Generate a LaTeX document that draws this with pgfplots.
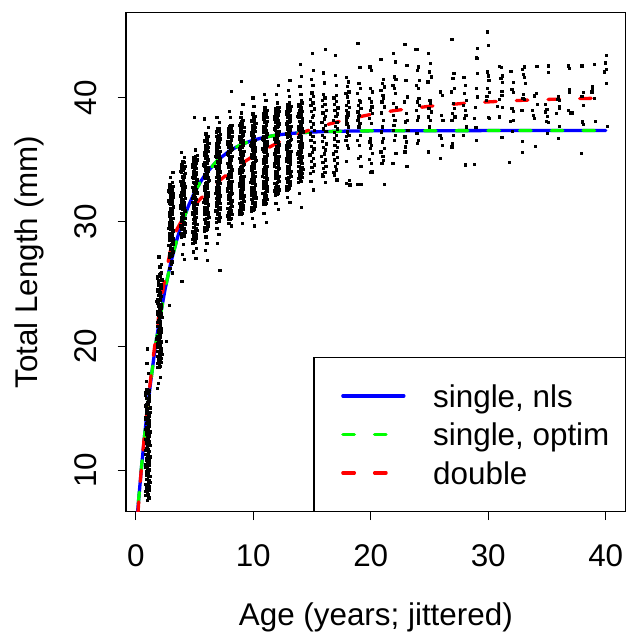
\documentclass[border=0pt]{standalone}
\usepackage{fontspec}
\setmainfont{Liberation Sans}
\usepackage{pgfplots}
\pgfplotsset{compat=1.18}
\definecolor{rblue}{RGB}{0,0,255}
\definecolor{rgreen}{RGB}{0,255,0}
\definecolor{rred}{RGB}{255,0,0}
\newcommand{\bigfont}{\fontsize{31.5}{38}\selectfont}
\begin{document}
\begin{tikzpicture}[font=\bigfont]
\useasboundingbox (-126bp,-125.3bp) rectangle (501bp,511.7bp);
\begin{axis}[
  at={(0bp,0bp)}, anchor=south west,
  scale only axis, width=499.7bp, height=499bp,
  xmin=-0.83, xmax=41.7, ymin=6.67, ymax=46.84,
  xtick={0,10,20,30,40}, ytick={10,20,30,40},
  tick pos=left, tick align=outside, major tick length=8.3bp,
  axis line style={line width=1.2bp},
  every tick/.append style={line width=1.2bp, black},
  /pgf/number format/assume math mode=true,
  tick label style={font=\bigfont},
  xticklabel style={anchor=base, yshift=-46bp},
  yticklabel style={xshift=-21bp, rotate=90, anchor=base},
  xlabel={Age (years; jittered)}, ylabel={Total Length (mm)},
  every axis x label/.style={at={(rel axis cs:0.5,0)}, anchor=base, yshift=-113.3bp, font=\bigfont},
  every axis y label/.style={at={(rel axis cs:0,0.5)}, xshift=-88bp, rotate=90, anchor=base, font=\bigfont},
  legend cell align=left,
  legend style={at={(rel axis cs:1,0)}, anchor=south east, draw=black, line width=1.2bp, fill=white,
     inner xsep=27.3bp, inner ysep=19bp, row sep=0bp, column sep=27.7bp, font=\bigfont,
     nodes={inner sep=0bp, text height=30.5bp, text depth=8bp}},
  legend image code/.code={\draw[#1] (0bp,0bp) -- (61bp,0bp);},
]
\addplot[only marks, mark=square*, mark size=1.15bp, mark options={draw=none, fill=black}, forget plot] coordinates {
(0.85,8.0) (1.08,8.1) (0.98,8.3) (1.17,8.4) (0.91,8.6) (1.12,8.7) (0.81,8.9) (1.03,9.0) (1.15,9.2) (0.94,9.3) (1.19,9.5) (0.88,9.6)
(1.05,9.8) (0.87,9.9) (1.16,10.1) (0.96,10.2) (1.10,10.4) (0.83,10.5) (1.01,10.7) (1.13,10.8) (0.92,11.0) (1.18,11.1) (0.89,11.3) (1.07,11.4)
(0.85,11.6) (1.08,11.7) (0.98,11.9) (1.17,12.0) (0.91,12.2) (1.12,12.3) (0.81,12.5) (1.03,12.6) (1.15,12.8) (0.94,12.9) (1.19,13.1) (0.88,13.2)
(1.05,13.4) (0.87,13.5) (1.16,13.7) (0.96,13.8) (1.10,14.0) (0.83,14.1) (1.01,14.3) (1.13,14.4) (0.92,14.6) (1.18,14.7) (0.89,14.9) (1.07,15.0)
(0.85,15.2) (1.08,15.3) (0.98,15.5) (1.17,15.6) (0.91,15.8) (1.12,15.9) (0.81,16.1) (1.03,16.2) (1.15,16.4) (0.94,16.5)
(0.95,7.6) (1.10,7.8) (0.90,17.2) (1.05,17.8) (0.92,18.6) (1.00,19.8)
(1.85,18.3) (2.08,18.4) (1.98,18.6) (2.17,18.7) (1.91,18.9) (2.12,19.0) (1.81,19.2) (2.03,19.3) (2.15,19.5) (1.94,19.6) (2.19,19.8) (1.88,19.9)
(2.05,20.1) (1.87,20.2) (2.16,20.4) (1.96,20.5) (2.10,20.7) (1.83,20.8) (2.01,21.0) (2.13,21.1) (1.92,21.3) (2.18,21.4) (1.89,21.6) (2.07,21.7)
(1.85,21.9) (2.08,22.0) (1.98,22.2) (2.17,22.3) (1.91,22.5) (2.12,22.6) (1.81,22.8) (2.03,22.9) (2.15,23.1) (1.94,23.2) (2.19,23.4) (1.88,23.5)
(2.05,23.7) (1.87,23.8) (2.16,24.0) (1.96,24.1) (2.10,24.3) (1.83,24.4) (2.01,24.6) (2.13,24.7) (1.92,24.9) (2.18,25.0) (1.89,25.2) (2.07,25.3)
(1.85,25.5) (2.08,25.6) (1.98,25.8) (2.17,25.9)
(1.90,17.0) (2.10,17.5) (1.85,16.6) (2.05,26.4) (1.95,27.2) (2.15,26.6) (2.86,23.3) (2.58,20.4)
(2.85,27.2) (3.08,27.3) (2.98,27.5) (3.17,27.6) (2.91,27.8) (3.12,27.9) (2.81,28.1) (3.03,28.2) (3.15,28.4) (2.94,28.5) (3.19,28.7) (2.88,28.8)
(3.05,29.0) (2.87,29.1) (3.16,29.3) (2.96,29.4) (3.10,29.6) (2.83,29.7) (3.01,29.9) (3.13,30.0) (2.92,30.2) (3.18,30.3) (2.89,30.5) (3.07,30.6)
(2.85,30.8) (3.08,30.9) (2.98,31.1) (3.17,31.2) (2.91,31.4) (3.12,31.5) (2.81,31.7) (3.03,31.8) (3.15,32.0) (2.94,32.1) (3.19,32.3) (2.88,32.4)
(3.05,32.6) (2.87,32.7) (3.16,32.9) (2.96,33.0) (3.10,33.2)
(3.10,25.9) (2.90,26.3) (3.05,26.8) (3.00,26.6) (2.95,33.6) (3.15,34.0)
(3.85,28.8) (4.08,28.9) (3.98,29.1) (4.17,29.2) (3.91,29.4) (4.12,29.5) (3.81,29.7) (4.03,29.8) (4.15,30.0) (3.94,30.1) (4.19,30.3) (3.88,30.4)
(4.05,30.6) (3.87,30.7) (4.16,30.9) (3.96,31.0) (4.10,31.2) (3.83,31.3) (4.01,31.5) (4.13,31.6) (3.92,31.8) (4.18,31.9) (3.89,32.1) (4.07,32.2)
(3.85,32.4) (4.08,32.5) (3.98,32.7) (4.17,32.8) (3.91,33.0) (4.12,33.1) (3.81,33.3) (4.03,33.4) (4.15,33.6) (3.94,33.7) (4.19,33.9) (3.88,34.0)
(4.05,34.2) (3.87,34.3) (4.16,34.5) (3.96,34.6) (4.10,34.8)
(3.90,25.2) (4.10,27.0) (3.95,27.4) (4.05,28.2) (4.15,35.2) (3.88,35.6)
(4.85,28.3) (5.08,28.4) (4.98,28.6) (5.17,28.7) (4.91,28.9) (5.12,29.0) (4.81,29.2) (5.03,29.3) (5.15,29.5) (4.94,29.6) (5.19,29.8) (4.88,29.9)
(5.05,30.1) (4.87,30.2) (5.16,30.4) (4.96,30.5) (5.10,30.7) (4.83,30.8) (5.01,31.0) (5.13,31.1) (4.92,31.3) (5.18,31.4) (4.89,31.6) (5.07,31.7)
(4.85,31.9) (5.08,32.0) (4.98,32.2) (5.17,32.3) (4.91,32.5) (5.12,32.6) (4.81,32.8) (5.03,32.9) (5.15,33.1) (4.94,33.2) (5.19,33.4) (4.88,33.5)
(5.05,33.7) (4.87,33.8) (5.16,34.0) (4.96,34.1) (5.10,34.3) (4.83,34.4) (5.01,34.6) (5.13,34.7) (4.92,34.9) (5.18,35.0) (4.89,35.2) (5.07,35.3)
(5.10,27.1) (4.90,27.6) (5.15,27.9) (5.05,35.8) (4.95,38.4)
(5.85,29.3) (6.08,29.4) (5.98,29.6) (6.17,29.7) (5.91,29.9) (6.12,30.0) (5.81,30.2) (6.03,30.3) (6.15,30.5) (5.94,30.6) (6.19,30.8) (5.88,30.9)
(6.05,31.1) (5.87,31.2) (6.16,31.4) (5.96,31.5) (6.10,31.7) (5.83,31.8) (6.01,32.0) (6.13,32.1) (5.92,32.3) (6.18,32.4) (5.89,32.6) (6.07,32.7)
(5.85,32.9) (6.08,33.0) (5.98,33.2) (6.17,33.3) (5.91,33.5) (6.12,33.6) (5.81,33.8) (6.03,33.9) (6.15,34.1) (5.94,34.2) (6.19,34.4) (5.88,34.5)
(6.05,34.7) (5.87,34.8) (6.16,35.0) (5.96,35.1) (6.10,35.3) (5.83,35.4) (6.01,35.6) (6.13,35.7) (5.92,35.9) (6.18,36.0) (5.89,36.2) (6.07,36.3)
(5.85,36.5) (6.08,36.6) (5.98,36.8) (6.17,36.9) (5.91,37.1)
(6.10,26.9) (5.90,27.7) (6.05,28.3) (5.95,28.8) (6.15,37.6) (5.85,38.3)
(6.85,30.0) (7.08,30.1) (6.98,30.3) (7.17,30.4) (6.91,30.6) (7.12,30.7) (6.81,30.9) (7.03,31.0) (7.15,31.2) (6.94,31.3) (7.19,31.5) (6.88,31.6)
(7.05,31.8) (6.87,31.9) (7.16,32.1) (6.96,32.2) (7.10,32.4) (6.83,32.5) (7.01,32.7) (7.13,32.8) (6.92,33.0) (7.18,33.1) (6.89,33.3) (7.07,33.4)
(6.85,33.6) (7.08,33.7) (6.98,33.9) (7.17,34.0) (6.91,34.2) (7.12,34.3) (6.81,34.5) (7.03,34.6) (7.15,34.8) (6.94,34.9) (7.19,35.1) (6.88,35.2)
(7.05,35.4) (6.87,35.5) (7.16,35.7) (6.96,35.8) (7.10,36.0) (6.83,36.1) (7.01,36.3) (7.13,36.4) (6.92,36.6) (7.18,36.7) (6.89,36.9) (7.07,37.0)
(6.85,37.2) (7.08,37.3) (6.98,37.5)
(7.15,26.1) (6.95,28.3) (7.05,29.0) (6.90,29.5) (7.10,38.0) (6.88,38.4)
(7.85,30.2) (8.08,30.3) (7.98,30.5) (8.17,30.6) (7.91,30.8) (8.12,30.9) (7.81,31.1) (8.03,31.2) (8.15,31.4) (7.94,31.5) (8.19,31.7) (7.88,31.8)
(8.05,32.0) (7.87,32.1) (8.16,32.3) (7.96,32.4) (8.10,32.6) (7.83,32.7) (8.01,32.9) (8.13,33.0) (7.92,33.2) (8.18,33.3) (7.89,33.5) (8.07,33.6)
(7.85,33.8) (8.08,33.9) (7.98,34.1) (8.17,34.2) (7.91,34.4) (8.12,34.5) (7.81,34.7) (8.03,34.8) (8.15,35.0) (7.94,35.1) (8.19,35.3) (7.88,35.4)
(8.05,35.6) (7.87,35.7) (8.16,35.9) (7.96,36.0) (8.10,36.2) (7.83,36.3) (8.01,36.5) (8.13,36.6) (7.92,36.8) (8.18,36.9) (7.89,37.1) (8.07,37.2)
(7.85,37.4) (8.08,37.5) (7.98,37.7) (8.17,37.8)
(8.10,29.7) (7.90,29.9) (8.05,38.4) (7.95,38.9) (8.10,40.5)
(8.85,30.6) (9.08,30.7) (8.98,30.9) (9.17,31.0) (8.91,31.2) (9.12,31.3) (8.81,31.5) (9.03,31.6) (9.15,31.8) (8.94,31.9) (9.19,32.1) (8.88,32.2)
(9.05,32.4) (8.87,32.5) (9.16,32.7) (8.96,32.8) (9.10,33.0) (8.83,33.1) (9.01,33.3) (9.13,33.4) (8.92,33.6) (9.18,33.7) (8.89,33.9) (9.07,34.0)
(8.85,34.2) (9.08,34.3) (8.98,34.5) (9.17,34.6) (8.91,34.8) (9.12,34.9) (8.81,35.1) (9.03,35.2) (9.15,35.4) (8.94,35.5) (9.19,35.7) (8.88,35.8)
(9.05,36.0) (8.87,36.1) (9.16,36.3) (8.96,36.4) (9.10,36.6) (8.83,36.7) (9.01,36.9) (9.13,37.0) (8.92,37.2) (9.18,37.3) (8.89,37.5) (9.07,37.6)
(8.85,37.8) (9.08,37.9) (8.98,38.1) (9.17,38.2) (8.91,38.4)
(9.05,29.9) (8.95,38.8) (9.10,39.5) (9.00,41.3)
(9.85,30.9) (10.08,31.0) (9.98,31.2) (10.17,31.3) (9.91,31.5) (10.12,31.6) (9.81,31.8) (10.03,31.9) (10.15,32.1) (9.94,32.2) (10.19,32.4) (9.88,32.5)
(10.05,32.7) (9.87,32.8) (10.16,33.0) (9.96,33.1) (10.10,33.3) (9.83,33.4) (10.01,33.6) (10.13,33.7) (9.92,33.9) (10.18,34.0) (9.89,34.2) (10.07,34.3)
(9.85,34.5) (10.08,34.6) (9.98,34.8) (10.17,34.9) (9.91,35.1) (10.12,35.2) (9.81,35.4) (10.03,35.5) (10.15,35.7) (9.94,35.8) (10.19,36.0) (9.88,36.1)
(10.05,36.3) (9.87,36.4) (10.16,36.6) (9.96,36.7) (10.10,36.9) (9.83,37.0) (10.01,37.2) (10.13,37.3) (9.92,37.5) (10.18,37.6) (9.89,37.8) (10.07,37.9)
(9.85,38.1) (10.08,38.2) (9.98,38.4) (10.17,38.5) (9.91,38.7)
(10.10,29.7) (9.90,30.3) (10.05,39.3) (9.95,40.0)
(10.85,31.4) (11.08,31.5) (10.98,31.7) (11.17,31.8) (10.91,32.0) (11.12,32.1) (10.81,32.3) (11.03,32.4) (11.15,32.6) (10.94,32.7) (11.19,32.9) (10.88,33.0)
(11.05,33.2) (10.87,33.3) (11.16,33.5) (10.96,33.6) (11.10,33.8) (10.83,33.9) (11.01,34.1) (11.13,34.2) (10.92,34.4) (11.18,34.5) (10.89,34.7) (11.07,34.8)
(10.85,35.0) (11.08,35.1) (10.98,35.3) (11.17,35.4) (10.91,35.6) (11.12,35.7) (10.81,35.9) (11.03,36.0) (11.15,36.2) (10.94,36.3) (11.19,36.5) (10.88,36.6)
(11.05,36.8) (10.87,36.9) (11.16,37.1) (10.96,37.2) (11.10,37.4) (10.83,37.5) (11.01,37.7) (11.13,37.8) (10.92,38.0) (11.18,38.1) (10.89,38.3) (11.07,38.4)
(10.85,38.6) (11.08,38.7) (10.98,38.9) (11.17,39.0) (10.91,39.2)
(11.10,30.0) (10.90,30.7) (11.05,39.8) (10.95,40.3)
(11.85,32.2) (12.08,32.3) (11.98,32.5) (12.17,32.6) (11.91,32.8) (12.12,32.9) (11.81,33.1) (12.03,33.2) (12.15,33.4) (11.94,33.5) (12.19,33.7) (11.88,33.8)
(12.05,34.0) (11.87,34.1) (12.16,34.3) (11.96,34.4) (12.10,34.6) (11.83,34.7) (12.01,34.9) (12.13,35.0) (11.92,35.2) (12.18,35.3) (11.89,35.5) (12.07,35.6)
(11.85,35.8) (12.08,35.9) (11.98,36.1) (12.17,36.2) (11.91,36.4) (12.12,36.5) (11.81,36.7) (12.03,36.8) (12.15,37.0) (11.94,37.1) (12.19,37.3) (11.88,37.4)
(12.05,37.6) (11.87,37.7) (12.16,37.9) (11.96,38.0) (12.10,38.2) (11.83,38.3) (12.01,38.5) (12.13,38.6) (11.92,38.8) (12.18,38.9) (11.89,39.1) (12.07,39.2)
(12.10,31.0) (11.90,31.5) (12.05,39.6) (11.95,40.3) (12.10,41.0)
(12.85,32.6) (13.08,32.7) (12.98,32.9) (13.17,33.0) (12.91,33.2) (13.12,33.3) (12.81,33.5) (13.03,33.6) (13.15,33.8) (12.94,33.9) (13.19,34.1) (12.88,34.2)
(13.05,34.4) (12.87,34.5) (13.16,34.7) (12.96,34.8) (13.10,35.0) (12.83,35.1) (13.01,35.3) (13.13,35.4) (12.92,35.6) (13.18,35.7) (12.89,35.9) (13.07,36.0)
(12.85,36.2) (13.08,36.3) (12.98,36.5) (13.17,36.6) (12.91,36.8) (13.12,36.9) (12.81,37.1) (13.03,37.2) (13.15,37.4) (12.94,37.5) (13.19,37.7) (12.88,37.8)
(13.05,38.0) (12.87,38.1) (13.16,38.3) (12.96,38.4) (13.10,38.6) (12.83,38.7) (13.01,38.9) (13.13,39.0) (12.92,39.2) (13.18,39.3) (12.89,39.5) (13.07,39.6)
(13.10,31.6) (12.90,32.0) (13.05,40.1) (12.95,40.6) (13.10,41.4)
(13.85,33.2) (14.08,33.3) (13.98,33.5) (14.17,33.6) (13.91,33.8) (14.12,33.9) (13.81,34.1) (14.03,34.2) (14.15,34.4) (13.94,34.5) (14.19,34.7) (13.88,34.8)
(14.05,35.0) (13.87,35.1) (14.16,35.3) (13.96,35.4) (14.10,35.6) (13.83,35.7) (14.01,35.9) (14.13,36.0) (13.92,36.2) (14.18,36.3) (13.89,36.5) (14.07,36.6)
(13.85,36.8) (14.08,36.9) (13.98,37.1) (14.17,37.2) (13.91,37.4) (14.12,37.5) (13.81,37.7) (14.03,37.8) (14.15,38.0) (13.94,38.1) (14.19,38.3) (13.88,38.4)
(14.05,38.6) (13.87,38.7) (14.16,38.9) (13.96,39.0) (14.10,39.2) (13.83,39.3) (14.01,39.5) (14.13,39.6)
(14.10,31.2) (13.90,32.3) (14.05,40.3) (13.95,40.9) (14.10,41.7) (13.98,42.7)
(14.85,33.9) (15.08,34.1) (14.98,34.4) (15.17,34.6) (14.91,34.9) (15.12,35.1) (14.81,35.4) (15.03,35.6) (15.15,35.9) (14.94,36.1) (15.19,36.4) (14.88,36.6)
(15.05,36.9) (14.87,37.1) (15.16,37.4) (14.96,37.6) (15.10,37.9) (14.83,38.1) (15.01,38.4) (15.13,38.6) (14.92,38.9) (15.18,39.1) (14.89,39.4) (15.07,39.6)
(14.85,39.9) (15.08,40.1) (14.98,40.4)
(15.10,32.6) (14.90,33.3) (15.05,41.0) (14.95,41.5) (15.00,43.6) (15.10,42.2)
(15.85,33.8) (16.08,34.0) (15.98,34.3) (16.17,34.5) (15.91,34.8) (16.12,35.0) (15.81,35.3) (16.03,35.5) (16.15,35.8) (15.94,36.0) (16.19,36.3) (15.88,36.5)
(16.05,36.8) (15.87,37.0) (16.16,37.3) (15.96,37.5) (16.10,37.8) (15.83,38.0) (16.01,38.3) (16.13,38.5) (15.92,38.8) (16.18,39.0) (15.89,39.3) (16.07,39.5)
(15.85,39.8) (16.08,40.0) (15.98,40.3)
(16.10,33.2) (15.90,33.7) (16.05,41.2) (15.95,42.0) (16.10,43.9)
(16.85,34.0) (17.08,34.2) (16.98,34.5) (17.17,34.7) (16.91,35.0) (17.12,35.2) (16.81,35.5) (17.03,35.7) (17.15,36.0) (16.94,36.2) (17.19,36.5) (16.88,36.7)
(17.05,37.0) (16.87,37.2) (17.16,37.5) (16.96,37.7) (17.10,38.0) (16.83,38.2) (17.01,38.5) (17.13,38.7) (16.92,39.0) (17.18,39.2) (16.89,39.5) (17.07,39.7)
(16.85,40.0) (17.08,40.2)
(17.10,33.4) (16.90,33.8) (17.05,41.0) (16.95,41.8) (17.00,43.4)
(17.90,41.64) (18.06,41.29) (17.97,40.94) (18.12,40.49) (17.86,40.35) (18.02,40.08) (18.09,39.68) (17.93,39.41) (18.15,39.22) (17.89,39.01) (18.04,38.80) (17.95,38.47)
(17.90,38.21) (18.06,37.67) (17.97,37.27) (18.12,37.00) (17.86,36.59) (18.02,36.19) (18.09,35.92) (17.93,34.90) (18.15,33.37) (17.89,33.11) (18.20,33.00) (17.95,37.90)
(17.90,36.90) (18.06,38.60)
(18.90,44.38) (19.06,42.44) (18.97,41.16) (19.12,40.75) (18.86,40.35) (19.02,39.81) (19.09,39.68) (18.93,39.41) (19.15,39.14) (18.89,38.88) (19.04,38.61) (18.95,38.47)
(18.90,38.21) (19.06,37.94) (18.97,37.67) (19.12,37.00) (18.86,36.59) (19.02,36.19) (19.09,35.26) (18.93,35.12) (19.15,34.50) (18.89,33.02) (19.20,33.05)
(19.90,42.50) (20.06,42.23) (19.97,40.75) (20.12,40.49) (19.86,39.95) (20.02,39.68) (20.09,39.28) (19.93,39.01) (20.15,38.74) (19.89,38.34) (20.04,37.94) (19.95,36.73)
(19.90,36.46) (20.06,36.19) (19.97,35.92) (20.12,35.52) (19.86,35.04) (20.02,34.72) (20.09,34.05) (20.00,34.00) (20.82,43.10)
(20.90,43.09) (21.06,41.48) (20.97,41.16) (21.12,40.89) (20.86,40.62) (21.02,40.22) (21.09,39.95) (20.93,39.68) (21.15,39.28) (20.89,38.80) (21.04,38.21) (20.95,37.67)
(20.90,37.27) (21.06,36.73) (20.97,36.46) (21.12,35.92) (20.86,35.66) (21.02,35.26) (21.09,34.98) (20.93,34.72) (21.15,33.02)
(21.90,43.57) (22.06,42.90) (21.97,41.69) (22.12,41.48) (21.86,41.02) (22.02,40.75) (22.09,40.35) (21.93,39.55) (22.15,39.22) (21.89,38.61) (22.04,38.21) (21.95,37.80)
(21.90,37.40) (22.06,37.00) (21.97,36.59) (22.12,35.52) (21.86,34.72)
(22.90,44.32) (23.06,42.63) (22.97,41.42) (23.12,40.08) (22.86,39.68) (23.02,38.74) (23.09,38.21) (22.93,38.07) (23.15,37.40) (22.89,36.86) (23.04,36.46) (22.95,36.06)
(22.90,35.66) (23.06,34.50) (23.80,43.90)
(23.90,43.89) (24.06,42.50) (23.97,42.23) (24.12,41.42) (23.86,41.02) (24.02,40.75) (24.09,39.95) (23.93,39.68) (24.15,39.41) (23.89,39.01) (24.04,38.47) (23.95,38.21)
(23.90,37.13) (24.06,36.59) (23.97,36.33)
(24.90,43.57) (25.06,42.77) (24.97,42.10) (25.12,41.69) (24.86,41.29) (25.02,39.81) (25.09,39.55) (24.93,39.14) (25.15,38.88) (24.89,38.47) (25.04,38.21) (24.95,37.67)
(24.90,35.66)
(25.90,40.49) (26.06,40.22) (25.97,38.61) (26.12,38.21) (25.86,37.00) (26.02,36.73) (26.09,36.19) (25.93,35.12)
(26.90,44.70) (27.06,41.96) (26.97,41.56) (27.12,40.75) (26.86,40.49) (27.02,39.55) (27.09,39.14) (26.93,38.74) (27.15,38.47) (26.89,38.21) (27.04,37.00) (26.95,36.33) (26.90,36.06)
(27.90,41.64) (28.06,41.02) (27.97,40.35) (28.12,39.81) (27.86,39.41) (28.02,39.01) (28.09,38.61) (27.93,38.34) (28.15,37.67) (27.89,37.00) (28.04,34.60)
(29.07,43.97) (28.96,43.25) (29.07,41.96) (28.96,40.76) (29.07,40.08) (28.88,39.22) (28.82,38.34) (28.93,37.61) (28.96,36.59) (28.82,34.66) (29.02,43.17)
(29.93,45.32) (30.01,44.22) (29.93,42.10) (30.01,41.77) (30.05,41.40) (29.93,40.76) (30.10,40.43) (29.81,39.79) (29.87,40.11) (30.01,38.42) (30.10,38.34)
(30.95,42.53) (31.08,42.45) (31.20,41.77) (31.20,41.24) (31.06,41.56) (31.15,40.54) (31.15,40.22) (30.95,39.87) (30.78,39.33) (31.20,39.22) (30.95,38.47) (31.15,36.81)
(31.91,42.12) (32.14,41.24) (32.00,40.67) (32.14,40.43) (32.00,39.14) (32.14,38.93) (31.85,38.12) (32.14,38.21) (31.80,34.80) (32.05,37.30)
(32.90,42.28) (33.07,42.50) (32.99,41.88) (33.07,41.64) (33.13,41.16) (32.99,40.27) (32.93,39.95) (33.07,39.87) (32.85,39.01) (32.90,36.49) (32.90,35.60)
(33.75,39.01) (33.84,38.61) (33.93,38.34) (34.01,36.11) (34.12,42.53) (34.07,40.38) (33.93,40.16) (34.18,39.47)
(34.86,39.47) (34.86,38.88) (34.97,39.06) (35.03,38.50) (34.92,38.12) (35.12,38.02) (35.03,37.13) (35.12,42.58) (35.12,42.04)
(35.97,40.08) (35.91,39.87) (36.05,39.81) (36.05,39.33) (36.05,39.20) (35.77,38.74) (36.05,37.70) (35.97,36.73)
(36.82,42.58) (36.90,42.37) (36.90,40.70) (36.90,40.49) (36.82,39.01) (37.02,38.85) (37.10,38.80) (36.96,38.74)
(37.95,42.58) (37.95,40.14) (38.10,40.43) (38.10,39.39) (38.01,38.07) (38.10,37.86) (37.93,35.52)
(39.03,42.69) (38.86,40.89) (38.80,40.49) (38.86,40.57) (39.03,39.95) (39.12,38.10)
(39.94,42.82) (39.88,42.10) (40.05,43.41) (40.05,41.16) (40.14,37.70) (40.02,42.30)
};
\addplot[only marks, mark=square*, mark size=1.15bp, mark options={draw=none, fill=black}, forget plot] coordinates {
(1.00,8.05) (0.83,8.30) (1.11,8.55) (0.93,8.80) (1.21,9.05) (0.87,9.30) (1.06,9.55) (0.97,9.80) (1.14,10.05) (0.79,10.30) (1.09,10.55) (0.90,10.80)
(1.00,11.05) (0.83,11.30) (1.11,11.55) (0.93,11.80) (1.21,12.05) (0.87,12.30) (1.06,12.55) (0.97,12.80) (1.14,13.05) (0.79,13.30) (1.09,13.55) (0.90,13.80)
(1.00,14.05) (0.83,14.30) (1.11,14.55) (0.93,14.80) (1.21,15.05) (0.87,15.30) (1.06,15.55) (0.97,15.80) (1.14,16.05) (0.79,16.30)
(2.00,18.35) (1.83,18.60) (2.11,18.85) (1.93,19.10) (2.21,19.35) (1.87,19.60) (2.06,19.85) (1.97,20.10) (2.14,20.35) (1.79,20.60) (2.09,20.85) (1.90,21.10)
(2.00,21.35) (1.83,21.60) (2.11,21.85) (1.93,22.10) (2.21,22.35) (1.87,22.60) (2.06,22.85) (1.97,23.10) (2.14,23.35) (1.79,23.60) (2.09,23.85) (1.90,24.10)
(2.00,24.35) (1.83,24.60) (2.11,24.85) (1.93,25.10) (2.21,25.35) (1.87,25.60) (2.06,25.85)
(3.00,27.25) (2.83,27.50) (3.11,27.75) (2.93,28.00) (3.21,28.25) (2.87,28.50) (3.06,28.75) (2.97,29.00) (3.14,29.25) (2.79,29.50) (3.09,29.75) (2.90,30.00)
(3.00,30.25) (2.83,30.50) (3.11,30.75) (2.93,31.00) (3.21,31.25) (2.87,31.50) (3.06,31.75) (2.97,32.00) (3.14,32.25) (2.79,32.50) (3.09,32.75) (2.90,33.00)
(4.00,28.85) (3.83,29.10) (4.11,29.35) (3.93,29.60) (4.21,29.85) (3.87,30.10) (4.06,30.35) (3.97,30.60) (4.14,30.85) (3.79,31.10) (4.09,31.35) (3.90,31.60)
(4.00,31.85) (3.83,32.10) (4.11,32.35) (3.93,32.60) (4.21,32.85) (3.87,33.10) (4.06,33.35) (3.97,33.60) (4.14,33.85) (3.79,34.10) (4.09,34.35) (3.90,34.60) (4.00,34.85)
(5.00,28.35) (4.83,28.60) (5.11,28.85) (4.93,29.10) (5.21,29.35) (4.87,29.60) (5.06,29.85) (4.97,30.10) (5.14,30.35) (4.79,30.60) (5.09,30.85) (4.90,31.10)
(5.00,31.35) (4.83,31.60) (5.11,31.85) (4.93,32.10) (5.21,32.35) (4.87,32.60) (5.06,32.85) (4.97,33.10) (5.14,33.35) (4.79,33.60) (5.09,33.85) (4.90,34.10)
(5.00,34.35) (4.83,34.60) (5.11,34.85) (4.93,35.10) (5.21,35.35)
(6.00,29.35) (5.83,29.60) (6.11,29.85) (5.93,30.10) (6.21,30.35) (5.87,30.60) (6.06,30.85) (5.97,31.10) (6.14,31.35) (5.79,31.60) (6.09,31.85) (5.90,32.10)
(6.00,32.35) (5.83,32.60) (6.11,32.85) (5.93,33.10) (6.21,33.35) (5.87,33.60) (6.06,33.85) (5.97,34.10) (6.14,34.35) (5.79,34.60) (6.09,34.85) (5.90,35.10)
(6.00,35.35) (5.83,35.60) (6.11,35.85) (5.93,36.10) (6.21,36.35) (5.87,36.60) (6.06,36.85) (5.97,37.10)
(7.00,30.05) (6.83,30.30) (7.11,30.55) (6.93,30.80) (7.21,31.05) (6.87,31.30) (7.06,31.55) (6.97,31.80) (7.14,32.05) (6.79,32.30) (7.09,32.55) (6.90,32.80)
(7.00,33.05) (6.83,33.30) (7.11,33.55) (6.93,33.80) (7.21,34.05) (6.87,34.30) (7.06,34.55) (6.97,34.80) (7.14,35.05) (6.79,35.30) (7.09,35.55) (6.90,35.80)
(7.00,36.05) (6.83,36.30) (7.11,36.55) (6.93,36.80) (7.21,37.05) (6.87,37.30) (7.06,37.55)
(8.00,30.25) (7.83,30.50) (8.11,30.75) (7.93,31.00) (8.21,31.25) (7.87,31.50) (8.06,31.75) (7.97,32.00) (8.14,32.25) (7.79,32.50) (8.09,32.75) (7.90,33.00)
(8.00,33.25) (7.83,33.50) (8.11,33.75) (7.93,34.00) (8.21,34.25) (7.87,34.50) (8.06,34.75) (7.97,35.00) (8.14,35.25) (7.79,35.50) (8.09,35.75) (7.90,36.00)
(8.00,36.25) (7.83,36.50) (8.11,36.75) (7.93,37.00) (8.21,37.25) (7.87,37.50) (8.06,37.75)
(9.00,30.65) (8.83,30.90) (9.11,31.15) (8.93,31.40) (9.21,31.65) (8.87,31.90) (9.06,32.15) (8.97,32.40) (9.14,32.65) (8.79,32.90) (9.09,33.15) (8.90,33.40)
(9.00,33.65) (8.83,33.90) (9.11,34.15) (8.93,34.40) (9.21,34.65) (8.87,34.90) (9.06,35.15) (8.97,35.40) (9.14,35.65) (8.79,35.90) (9.09,36.15) (8.90,36.40)
(9.00,36.65) (8.83,36.90) (9.11,37.15) (8.93,37.40) (9.21,37.65) (8.87,37.90) (9.06,38.15) (8.97,38.40)
(10.00,30.95) (9.83,31.20) (10.11,31.45) (9.93,31.70) (10.21,31.95) (9.87,32.20) (10.06,32.45) (9.97,32.70) (10.14,32.95) (9.79,33.20) (10.09,33.45) (9.90,33.70)
(10.00,33.95) (9.83,34.20) (10.11,34.45) (9.93,34.70) (10.21,34.95) (9.87,35.20) (10.06,35.45) (9.97,35.70) (10.14,35.95) (9.79,36.20) (10.09,36.45) (9.90,36.70)
(10.00,36.95) (9.83,37.20) (10.11,37.45) (9.93,37.70) (10.21,37.95) (9.87,38.20) (10.06,38.45) (9.97,38.70)
(11.00,31.45) (10.83,31.70) (11.11,31.95) (10.93,32.20) (11.21,32.45) (10.87,32.70) (11.06,32.95) (10.97,33.20) (11.14,33.45) (10.79,33.70) (11.09,33.95) (10.90,34.20)
(11.00,34.45) (10.83,34.70) (11.11,34.95) (10.93,35.20) (11.21,35.45) (10.87,35.70) (11.06,35.95) (10.97,36.20) (11.14,36.45) (10.79,36.70) (11.09,36.95) (10.90,37.20)
(11.00,37.45) (10.83,37.70) (11.11,37.95) (10.93,38.20) (11.21,38.45) (10.87,38.70) (11.06,38.95) (10.97,39.20)
(12.00,32.25) (11.83,32.50) (12.11,32.75) (11.93,33.00) (12.21,33.25) (11.87,33.50) (12.06,33.75) (11.97,34.00) (12.14,34.25) (11.79,34.50) (12.09,34.75) (11.90,35.00)
(12.00,35.25) (11.83,35.50) (12.11,35.75) (11.93,36.00) (12.21,36.25) (11.87,36.50) (12.06,36.75) (11.97,37.00) (12.14,37.25) (11.79,37.50) (12.09,37.75) (11.90,38.00)
(12.00,38.25) (11.83,38.50) (12.11,38.75) (11.93,39.00) (12.21,39.25)
(13.00,32.65) (12.83,32.90) (13.11,33.15) (12.93,33.40) (13.21,33.65) (12.87,33.90) (13.06,34.15) (12.97,34.40) (13.14,34.65) (12.79,34.90) (13.09,35.15) (12.90,35.40)
(13.00,35.65) (12.83,35.90) (13.11,36.15) (12.93,36.40) (13.21,36.65) (12.87,36.90) (13.06,37.15) (12.97,37.40) (13.14,37.65) (12.79,37.90) (13.09,38.15) (12.90,38.40)
(13.00,38.65) (12.83,38.90) (13.11,39.15) (12.93,39.40)
(14.00,33.25) (13.83,33.50) (14.11,33.75) (13.93,34.00) (14.21,34.25) (13.87,34.50) (14.06,34.75) (13.97,35.00) (14.14,35.25) (13.79,35.50) (14.09,35.75) (13.90,36.00)
(14.00,36.25) (13.83,36.50) (14.11,36.75) (13.93,37.00) (14.21,37.25) (13.87,37.50) (14.06,37.75) (13.97,38.00) (14.14,38.25) (13.79,38.50) (14.09,38.75) (13.90,39.00)
(14.00,39.25) (13.83,39.50) (14.11,39.75)
};
\addplot[rblue, line width=3.3bp, line cap=round] coordinates {
(0,4.78) (0.2,7.13) (0.5,10.35) (0.75,12.76) (1,14.96) (1.25,16.97) (1.5,18.79) (1.75,20.45) (2,21.97) (2.5,24.60) (3,26.78) (3.5,28.58) (4,30.08) (4.5,31.32) (5,32.36) (5.5,33.21) (6,33.92) (7,34.99) (8,35.73) (9,36.24) (10,36.58) (11,36.82) (12,36.99) (13,37.10) (14,37.18) (15,37.23) (16,37.27) (18,37.31) (20,37.33) (25,37.34) (30,37.35) (35,37.35) (40,37.35)
};
\addlegendentry{single, nls\kern-11.6bp}
\addplot[rgreen, line width=3.3bp, line cap=round, dash pattern=on 11.5bp off 20.2bp] coordinates {
(0,4.78) (0.2,7.13) (0.5,10.35) (0.75,12.76) (1,14.96) (1.25,16.97) (1.5,18.79) (1.75,20.45) (2,21.97) (2.5,24.60) (3,26.78) (3.5,28.58) (4,30.08) (4.5,31.32) (5,32.36) (5.5,33.21) (6,33.92) (7,34.99) (8,35.73) (9,36.24) (10,36.58) (11,36.82) (12,36.99) (13,37.10) (14,37.18) (15,37.23) (16,37.27) (18,37.31) (20,37.33) (25,37.34) (30,37.35) (35,37.35) (40,37.35)
};
\addlegendentry{single, optim\kern-11.6bp}
\addplot[rred, line width=3.3bp, line cap=round, dash pattern=on 11.5bp off 20.2bp] coordinates {
(0,4.0) (0.25,7.4) (0.5,10.4) (0.75,12.9) (1,15.2) (1.5,19.2) (2,22.7) (2.5,25.6) (3,27.9) (3.5,29.4) (4,30.24) (4.5,30.82) (5,31.35) (6,32.34) (7,33.22) (8,34.0) (9,34.69) (10,35.30) (11,35.84) (12,36.32) (13,36.75) (14,37.13) (15,37.47) (16,37.76) (18,38.26) (20,38.65) (22,38.96) (25,39.31) (28,39.55) (31,39.71) (34,39.83) (37,39.91) (40,39.97)
};
\addlegendentry{double\kern-11.6bp}
\end{axis}
\end{tikzpicture}
\end{document}
